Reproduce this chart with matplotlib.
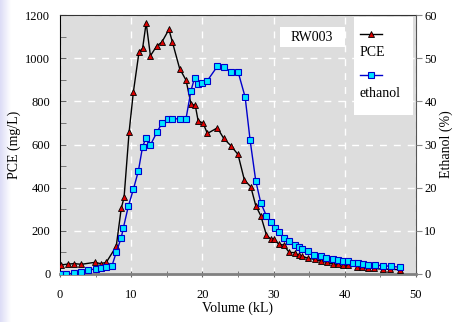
import numpy as np
import matplotlib
matplotlib.use("Agg")
import matplotlib.pyplot as plt
from matplotlib.patches import Rectangle
from matplotlib.lines import Line2D
from matplotlib.colors import LinearSegmentedColormap

# PCE concentration (mg/L) vs volume (kL)
pce_vol = [0.2, 1.1, 2.0, 3.0, 4.9, 5.7, 6.5, 7.9, 8.6, 9.0, 9.7, 10.3, 11.1, 11.6,
           12.1, 12.7, 13.6, 14.3, 15.3, 15.8, 16.8, 17.7, 18.4, 19.0, 19.4, 20.1,
           20.7, 22.1, 23.0, 24.0, 25.0, 25.9, 26.8, 27.5, 28.2, 29.0, 29.6, 30.1,
           30.7, 31.4, 32.2, 33.0, 33.5, 34.0, 34.9, 35.8, 36.6, 37.5, 38.4, 39.1,
           39.7, 40.5, 41.7, 42.4, 43.2, 44.1, 45.3, 46.4, 47.8]
pce = [42, 46, 48, 45, 54, 48, 54, 128, 304, 355, 656, 842, 1029, 1045,
       1164, 1011, 1057, 1074, 1133, 1073, 952, 898, 788, 781, 710, 699,
       651, 677, 628, 594, 554, 435, 404, 316, 270, 180, 162, 161,
       139, 134, 100, 99, 86, 83, 72, 68, 60, 54, 46, 45,
       42, 40, 34, 31, 28, 26, 22, 22, 20]

# ethanol (%) vs volume (kL)
eth_vol = [0.0, 0.9, 1.9, 2.9, 4.0, 5.0, 5.7, 6.5, 7.3, 7.9, 8.6, 8.9, 9.6, 10.3,
           11.0, 11.6, 12.1, 12.7, 13.6, 14.3, 15.2, 15.8, 16.8, 17.7, 18.4, 18.9,
           19.4, 20.0, 20.7, 22.1, 23.0, 24.0, 25.0, 26.0, 26.7, 27.5, 28.2, 29.0,
           29.6, 30.2, 30.8, 31.4, 32.2, 33.0, 33.5, 34.0, 34.9, 35.7, 36.6, 37.3,
           38.3, 39.0, 39.7, 40.5, 41.2, 41.9, 42.5, 43.2, 44.2, 45.3, 46.5, 47.7]
ethanol = [0.0, 0.0, 0.15, 0.4, 0.9, 1.2, 1.5, 1.7, 1.9, 5.0, 8.4, 10.7, 15.7, 19.6,
           23.8, 29.5, 31.6, 29.9, 32.8, 34.9, 36.0, 36.0, 35.9, 36.0, 42.5, 45.4,
           43.9, 44.2, 44.8, 48.1, 48.0, 46.8, 46.9, 41.0, 31.0, 21.5, 16.5, 13.4,
           12.1, 10.7, 9.8, 8.4, 7.6, 6.7, 6.3, 5.9, 5.3, 4.5, 4.1, 3.8,
           3.4, 3.2, 3.1, 2.9, 2.6, 2.5, 2.4, 2.2, 2.1, 1.9, 1.8, 1.55]

plt.rcParams['font.family'] = ['Liberation Serif', 'DejaVu Serif']
plt.rcParams['font.size'] = 9

fig = plt.figure(figsize=(4.57, 3.22), dpi=100)
fig.patch.set_facecolor('white')

# faint lavender strip on the left edge
strip = fig.add_axes([0, 0, 0.022, 1])
grad = np.linspace(0, 1, 50).reshape(1, -1)
cm = LinearSegmentedColormap.from_list('lav', ['#dcdcf6', '#ffffff'])
strip.imshow(grad, aspect='auto', cmap=cm, extent=[0, 1, 0, 1])
strip.axis('off')

ax = fig.add_axes([60 / 457, 1 - 274 / 322, 356 / 457, 259 / 322])
ax.set_facecolor('#dddddd')
ax.set_xlim(0, 50)
ax.set_ylim(0, 1200)
ax.set_xticks(range(0, 51, 10))
ax.set_xticks(range(5, 50, 10), minor=True)
ax.set_yticks(range(0, 1201, 200))
ax.set_yticks(range(100, 1200, 200), minor=True)
ax.grid(True, color='white', linestyle=(0, (5, 5)), linewidth=1)
ax.set_axisbelow(True)

ax.plot(pce_vol, pce, color='black', linewidth=1, marker='^', markersize=4.5,
        markerfacecolor='#dd0000', markeredgecolor='black', markeredgewidth=0.6,
        zorder=3)

ax.spines['left'].set_color('black')
ax.spines['top'].set_color('#333333')
ax.spines['bottom'].set_color('#808080')
ax.spines['bottom'].set_linewidth(2)
ax.spines['right'].set_color('#555555')
ax.tick_params(axis='y', which='both', direction='in', length=4, color='#666666', pad=7)
ax.tick_params(axis='x', which='both', direction='inout', length=5, color='#666666', pad=8)
ax.set_xlabel('Volume (kL)', labelpad=1, fontsize=10)
ax.set_ylabel('PCE (mg/L)', labelpad=3, fontsize=10)

ax2 = ax.twinx()
ax2.set_ylim(0, 60)
ax2.set_yticks(range(0, 61, 10))
ax2.plot(eth_vol, ethanol, color='#0000cc', linewidth=1, marker='s', markersize=4.5,
         markerfacecolor='#00e5ff', markeredgecolor='#0000cc', markeredgewidth=0.8)
ax2.tick_params(axis='y', direction='out', length=4, color='#888888', pad=2)
ax2.set_ylabel('Ethanol (%)', labelpad=2, fontsize=10)
for s in ax2.spines.values():
    s.set_visible(False)

# sample label box
ax2.add_patch(Rectangle((220 / 356, 1 - 32 / 259), 65 / 356, 20 / 259,
                        transform=ax2.transAxes, facecolor='white',
                        edgecolor='none', zorder=5))
ax2.text(252 / 356, 1 - 22 / 259, 'RW003', transform=ax2.transAxes,
         ha='center', va='center', zorder=6, fontsize=10)

# legend box with handle above label
ax2.add_patch(Rectangle((294 / 356, 1 - 100 / 259), 59 / 356, 98 / 259,
                        transform=ax2.transAxes, facecolor='white',
                        edgecolor='none', zorder=5))
ax2.add_line(Line2D([300 / 356, 311 / 356, 322 / 356],
                    [1 - 19 / 259] * 3,
                    transform=ax2.transAxes, color='black', linewidth=1,
                    marker='^', markersize=4.5, markevery=[1], zorder=6,
                    markerfacecolor='#dd0000', markeredgecolor='black',
                    markeredgewidth=0.6))
ax2.add_line(Line2D([300 / 356, 311 / 356, 322 / 356],
                    [1 - 60 / 259] * 3,
                    transform=ax2.transAxes, color='#0000cc', linewidth=1,
                    marker='s', markersize=4.5, markevery=[1], zorder=6,
                    markerfacecolor='#00e5ff', markeredgecolor='#0000cc',
                    markeredgewidth=0.8))
ax2.text(300 / 356, 1 - 37 / 259, 'PCE', transform=ax2.transAxes,
         ha='left', va='center', zorder=6, fontsize=10)
ax2.text(300 / 356, 1 - 78 / 259, 'ethanol', transform=ax2.transAxes,
         ha='left', va='center', zorder=6, fontsize=10)

fig.savefig('out.png', dpi=100)
